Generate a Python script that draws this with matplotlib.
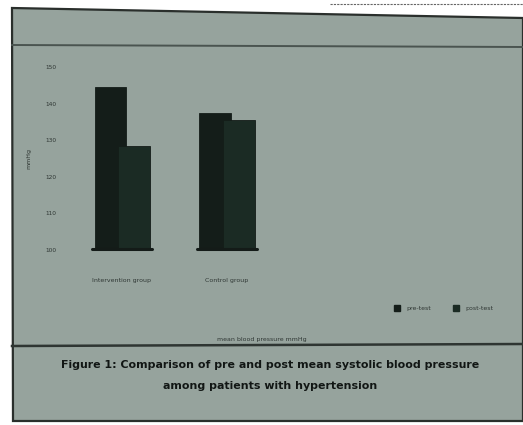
import numpy as np
import matplotlib.pyplot as plt
from matplotlib.patches import Polygon
from matplotlib.lines import Line2D

# Mean systolic blood pressure (mmHg) before and after
groups = ['Intervention group', 'Control group']
pre_test = [144.5, 137.5]
post_test = [128.5, 135.5]
yticks = [100, 110, 120, 130, 140, 150]

W, H = 523, 425
fig = plt.figure(figsize=(W / 100, H / 100), dpi=100)
fig.patch.set_facecolor('white')

def px(x, y):
    # pixel position (top-left origin) -> figure fraction
    return (x / W, 1 - y / H)

# grey printed page with its frame
page = Polygon([px(12, 8), px(523, 18), px(523, 421), px(13, 421)],
               closed=True, transform=fig.transFigure,
               facecolor='#96a39d', edgecolor='#2a2f2c', lw=1.6, zorder=-5)
fig.patches.append(page)
fig.add_artist(Line2D([12 / W, 1], [1 - 45 / H, 1 - 47 / H],
                      color='#4a5450', lw=1.4, zorder=-4))
fig.add_artist(Line2D([12 / W, 1], [1 - 346 / H, 1 - 344 / H],
                      color='#2e3532', lw=1.8, zorder=-4))
fig.add_artist(Line2D([330 / W, 1], [1 - 4 / H, 1 - 4 / H],
                      color='#666666', lw=0.8, ls=(0, (2, 1)), zorder=-4))

# plot area
x0, x1 = px(62, 0)[0], px(510, 0)[0]
yb, yt = px(0, 250)[1], px(0, 67)[1]
ax = fig.add_axes([x0, yb, x1 - x0, yt - yb])
ax.set_zorder(2)
ax.set_facecolor('none')
for s in ax.spines.values():
    s.set_visible(False)

x = np.arange(len(groups))
ax.bar(x - 0.11, [v - 100 for v in pre_test], width=0.30, bottom=100,
       color='#141d19', edgecolor='#141d19', lw=0.6, zorder=2)
ax.bar(x + 0.115, [v - 100 for v in post_test], width=0.30, bottom=100,
       color='#1b2b24', edgecolor='#141d19', lw=0.6, zorder=3)
# dark floor under each cluster
for xi in x:
    ax.plot([xi - 0.28, xi + 0.29], [100.3, 100.3], color='#141b18',
            lw=2.2, solid_capstyle='round', zorder=4, clip_on=False)

ax.set_xlim(-0.57, 3.7)
ax.set_ylim(100, 150)
ax.set_yticks(yticks)
ax.set_yticklabels([str(t) for t in yticks], fontsize=4.2, color='#2f3734')
ax.set_xticks(x)
ax.set_xticklabels(groups, fontsize=4.5, color='#2f3734')
ax.tick_params(length=0, pad=4)
ax.tick_params(axis='x', pad=20)
ax.set_ylabel('mmHg', fontsize=4.5, color='#2e3532', labelpad=10)

handles = [Line2D([], [], marker='s', ls='none', color='#141d19', markersize=4),
           Line2D([], [], marker='s', ls='none', color='#1b2b24', markersize=4)]
fig.legend(handles, ['pre-test', 'post-test'], ncol=2, frameon=False,
           fontsize=4.5, labelcolor='#2f3734', loc='center',
           bbox_to_anchor=px(442, 308), columnspacing=3, handletextpad=0.5)

fig.text(*px(262, 340), 'mean blood pressure mmHg', fontsize=4.5,
         color='#2f3734', ha='center', va='center')
fig.text(*px(270, 365), 'Figure 1: Comparison of pre and post mean systolic blood pressure',
         fontsize=7.9, fontweight='bold', color='#111614', ha='center', va='center')
fig.text(*px(270, 386), 'among patients with hypertension',
         fontsize=7.9, fontweight='bold', color='#111614', ha='center', va='center')

fig.savefig('out.png', dpi=100)
